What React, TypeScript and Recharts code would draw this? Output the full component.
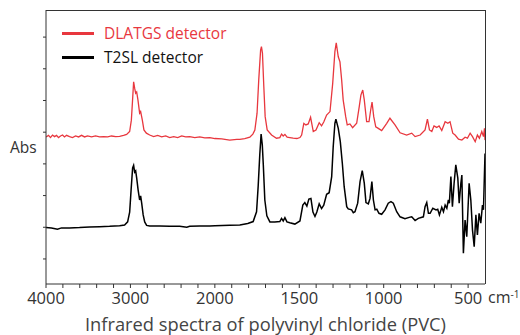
import { LineChart, Line, XAxis, YAxis } from 'recharts';

// wavenumbers (cm-1) and absorbance (offset units)
const dlatgsWn = [
  4000, 3970, 3947, 3923, 3899, 3875, 3852, 3828, 3804, 3781, 3757, 3721, 3686, 3650, 3614, 3579,
  3543, 3508, 3460, 3413, 3365, 3318, 3270, 3223, 3175, 3128, 3081, 3045, 3009, 2989, 2977, 2962,
  2950, 2938, 2926, 2911, 2891, 2879, 2859, 2840, 2811, 2772, 2725, 2677, 2630, 2582, 2535, 2487,
  2440, 2393, 2345, 2298, 2238, 2179, 2119, 2060, 2000, 1959, 1912, 1870, 1852, 1823, 1793, 1775,
  1763, 1750, 1740, 1729, 1724, 1718, 1710, 1702, 1690, 1664, 1635, 1615, 1605, 1595, 1585, 1572,
  1556, 1536, 1514, 1496, 1486, 1473, 1461, 1447, 1433, 1417, 1401, 1382, 1368, 1355, 1338, 1318,
  1302, 1289, 1281, 1269, 1259, 1249, 1240, 1225, 1216, 1200, 1184, 1160, 1145, 1135, 1124, 1115,
  1101, 1087, 1077, 1069, 1059, 1047, 1032, 1012, 982, 963, 933, 903, 864, 834, 814, 784,
  755, 741, 729, 715, 702, 686, 672, 656, 636, 620, 607, 591, 577, 557, 537, 518,
  504, 488, 474, 458, 445, 433, 419, 409, 403, 400,
];
const dlatgsAbs = [
  2.85, 2.9, 2.83, 2.91, 2.86, 2.9, 2.83, 2.88, 2.91, 2.85, 2.9, 2.86, 2.83, 2.88, 2.85, 2.9,
  2.85, 2.88, 2.85, 2.88, 2.85, 2.86, 2.85, 2.88, 2.86, 2.87, 2.9, 2.93, 3.02, 3.38, 3.91, 4.59,
  4.39, 4.23, 4.27, 4.02, 3.6, 3.65, 3.38, 3.07, 2.97, 2.91, 2.86, 2.9, 2.85, 2.88, 2.83, 2.86,
  2.83, 2.88, 2.85, 2.86, 2.83, 2.85, 2.82, 2.83, 2.8, 2.79, 2.75, 2.77, 2.77, 2.8, 2.84, 2.94,
  3.07, 3.6, 4.65, 5.59, 5.7, 5.49, 4.44, 3.49, 3.07, 2.91, 2.81, 2.83, 2.94, 2.88, 2.93, 2.84,
  2.83, 2.81, 2.8, 2.83, 2.91, 3.28, 3.23, 3.26, 3.47, 3.02, 3.07, 3.3, 3.2, 3.32, 3.54, 3.65,
  4.54, 5.54, 5.82, 5.38, 5.22, 4.65, 4.02, 3.49, 3.23, 3.26, 3.14, 3.28, 3.8, 4.17, 4.33, 4.02,
  3.33, 3.33, 3.7, 3.95, 3.49, 3.17, 3.12, 3.05, 3.28, 3.44, 3.23, 2.98, 2.91, 2.97, 2.86, 2.91,
  3.07, 3.41, 3.07, 3.02, 3.2, 3.15, 3.2, 3.05, 3.33, 3.28, 3.33, 2.97, 2.91, 2.78, 2.75, 2.84,
  2.81, 2.97, 2.86, 2.7, 2.91, 2.81, 3.02, 2.86, 3.12, 2.75,
];

const t2slWn = [
  4000, 3935, 3864, 3816, 3721, 3603, 3484, 3365, 3247, 3128, 3069, 3033, 3009, 2992, 2974, 2962,
  2950, 2938, 2926, 2909, 2891, 2879, 2867, 2849, 2831, 2808, 2772, 2653, 2535, 2416, 2333, 2298,
  2179, 2060, 2000, 1912, 1852, 1805, 1773, 1753, 1743, 1734, 1726, 1719, 1713, 1704, 1692, 1674,
  1645, 1615, 1605, 1595, 1585, 1573, 1556, 1526, 1496, 1479, 1467, 1455, 1443, 1431, 1419, 1407,
  1396, 1382, 1368, 1355, 1338, 1323, 1308, 1299, 1289, 1283, 1269, 1257, 1245, 1234, 1219, 1210,
  1190, 1180, 1170, 1154, 1140, 1127, 1115, 1105, 1091, 1081, 1070, 1061, 1051, 1041, 1028, 1012,
  992, 973, 957, 943, 923, 903, 874, 844, 834, 814, 795, 765, 755, 745, 735, 725,
  709, 690, 680, 670, 656, 646, 636, 626, 617, 611, 602, 593, 583, 573, 561, 553,
  543, 537, 528, 518, 508, 494, 484, 474, 464, 454, 445, 435, 425, 415, 409, 400,
];
const t2slAbs = [
  -0.01, -0.02, -0.06, -0.02, -0.02, -0.01, 0.01, 0.02, 0.03, 0.05, 0.07, 0.17, 0.48, 1.18, 1.87, 1.95,
  1.74, 1.78, 1.56, 1.18, 0.86, 0.99, 0.77, 0.39, 0.17, 0.06, 0.04, 0.04, 0.03, 0.03, 0.0, 0.03,
  0.04, 0.04, 0.05, 0.06, 0.07, 0.12, 0.18, 0.49, 1.33, 2.28, 2.94, 2.6, 1.97, 0.86, 0.36, 0.17,
  0.17, 0.18, 0.28, 0.2, 0.3, 0.17, 0.14, 0.1, 0.2, 0.7, 0.78, 0.67, 0.89, 0.91, 0.48, 0.34,
  0.48, 0.74, 0.59, 0.7, 1.04, 1.09, 1.6, 2.54, 3.28, 3.41, 3.12, 2.7, 2.02, 1.28, 0.65, 0.58,
  0.55, 0.46, 0.49, 0.76, 1.44, 1.79, 1.39, 0.78, 0.74, 0.91, 1.44, 0.86, 0.55, 0.57, 0.44, 0.41,
  0.55, 0.76, 0.81, 0.76, 0.49, 0.33, 0.27, 0.32, 0.33, 0.21, 0.28, 0.33, 0.65, 0.78, 0.44, 0.44,
  0.6, 0.55, 0.57, 0.39, 0.63, 0.49, 0.7, 0.6, 0.86, 0.76, 1.6, 0.65, 1.39, 1.97, 1.55, 0.76,
  1.39, 1.65, -0.82, 0.23, -0.3, 1.39, 0.86, -0.09, -0.61, 0.39, -0.24, 0.44, 0.13, 0.7, 0.55, 2.33,
];

const majorTicks = [4000, 3000, 2000, 1500, 1000, 500];
const minorTicks = [
  3800, 3600, 3400, 3200, 2800, 2600, 2400, 2200, 1900, 1800, 1700, 1600, 1400, 1300, 1200, 1100,
  900, 800, 700, 600,
];
const absTicks = [-1, 0, 1, 2, 3, 4, 5, 6];

// axis is compressed by 2x above 2000 cm-1
const toAxis = (w: number) => (w > 2000 ? 2000 + (w - 2000) / 2 : w);
const fromAxis = (p: number) => (p > 2000 ? 2000 + (p - 2000) * 2 : p);

const dlatgsData = dlatgsWn.map((w, i) => ({ pos: toAxis(w), abs: dlatgsAbs[i] }));
const t2slData = t2slWn.map((w, i) => ({ pos: toAxis(w), abs: t2slAbs[i] }));
const xTicks = [...majorTicks, ...minorTicks].map(toAxis).sort((a, b) => a - b);

const X_MIN = 400;
const X_MAX = 3000;
const Y_MIN = -1.79;
const Y_MAX = 6.855;

const RED = '#e8373e';
const AXIS = '#333';
const TEXT = '#333';

const TICK_LEN = 4;
const TICK_GAP = 4;

const XTick = ({ x, y, payload }: any) => {
  const w = Math.round(fromAxis(payload.value));
  const axisY = y - TICK_LEN - TICK_GAP;
  return (
    <g>
      <line x1={x} x2={x} y1={axisY} y2={axisY + TICK_LEN} stroke={AXIS} strokeWidth={1} />
      {majorTicks.includes(w) && (
        <text x={x} y={y} dy="0.71em" textAnchor="middle" fill={TEXT} fontSize={16.5}>
          {w}
        </text>
      )}
      {w === 500 && (
        <text x={x + 20} y={y} dy="0.71em" textAnchor="start" fill={TEXT} fontSize={16}>
          cm
          <tspan dy={-5} fontSize={10}>
            -1
          </tspan>
        </text>
      )}
    </g>
  );
};

const NoLabel = () => <g />;

const LegendRow = ({ color, label }: { color: string; label: string }) => (
  <div style={{ display: 'flex', alignItems: 'center', height: 24 }}>
    <div style={{ width: 32, height: 3, background: color, marginRight: 10 }} />
    <span style={{ color: color === RED ? RED : '#111', fontSize: 15.5 }}>{label}</span>
  </div>
);

export default function App() {
  return (
    <div style={{ position: 'absolute', left: 0, top: 0, width: 520, height: 335, fontFamily: "'Open Sans', sans-serif", background: '#fff' }}>
      <LineChart width={520} height={335} margin={{ top: 10, right: 35, left: 0, bottom: 0 }}>
        <XAxis
          type="number"
          dataKey="pos"
          domain={[X_MIN, X_MAX]}
          reversed
          ticks={xTicks}
          interval={0}
          tick={<XTick />}
          tickLine={false}
          tickSize={TICK_LEN}
          tickMargin={TICK_GAP}
          height={51}
          stroke={AXIS}
          allowDataOverflow
          label={{ value: 'Infrared spectra of polyvinyl chloride (PVC)', position: 'insideBottom', offset: 4, fill: '#444', fontSize: 18.3 }}
        />
        <YAxis
          type="number"
          domain={[Y_MIN, Y_MAX]}
          ticks={absTicks}
          interval={0}
          tick={<NoLabel />}
          tickLine={{ stroke: AXIS, strokeWidth: 1 }}
          tickSize={3}
          width={46}
          stroke={AXIS}
          allowDataOverflow
          label={{ value: 'Abs', position: 'insideLeft', offset: 10, fill: TEXT, fontSize: 15.5 }}
        />
        <Line data={t2slData} dataKey="abs" stroke="#000" strokeWidth={1.5} dot={false} isAnimationActive={false} />
        <Line data={dlatgsData} dataKey="abs" stroke={RED} strokeWidth={1.3} dot={false} isAnimationActive={false} />
      </LineChart>
      {/* top and right edges of the plot box */}
      <div style={{ position: 'absolute', left: 46, top: 10, width: 440, height: 274, borderTop: `1px solid ${AXIS}`, borderRight: `1px solid ${AXIS}`, boxSizing: 'border-box', pointerEvents: 'none' }} />
      <div style={{ position: 'absolute', left: 62, top: 21 }}>
        <LegendRow color={RED} label="DLATGS detector" />
        <LegendRow color="#000" label="T2SL detector" />
      </div>
    </div>
  );
}
